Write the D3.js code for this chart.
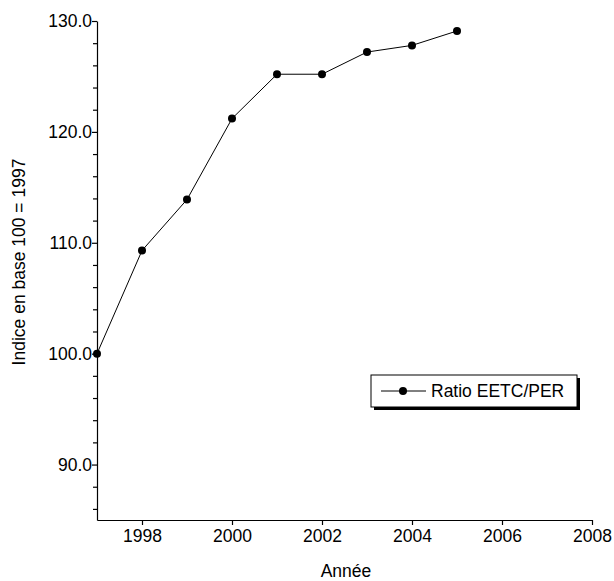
<!DOCTYPE html>
<html>
<head>
<meta charset="utf-8">
<script src="https://cdn.jsdelivr.net/npm/d3@7"></script>
<style>
  body { margin: 0; background: #fff; }
  text { font-family: "Liberation Sans", Arial, sans-serif; }
</style>
</head>
<body>
<div id="chart"></div>
<script>
const w = 614;
const h = 581;
const fs = 17.5;

const years = [1997, 1998, 1999, 2000, 2001, 2002, 2003, 2004, 2005];
const ratio = [100.0, 109.3, 113.9, 121.2, 125.2, 125.2, 127.2, 127.8, 129.1];
const xTicks = [1998, 2000, 2002, 2004, 2006, 2008];
const yMajor = [90, 100, 110, 120, 130];
const yMinor = d3.range(86, 130, 2);
const seriesName = "Ratio EETC/PER";

const padLeft = 97, padRight = 592, padTop = 21, padBottom = 520;

const xScale = d3.scaleLinear().domain([1997, 2008]).range([padLeft, padRight]);
const yScale = d3.scaleLinear().domain([85, 130]).range([padBottom, padTop]);

const svg = d3.select("#chart")
  .append("svg")
  .attr("width", w)
  .attr("height", h);

// minor y ticks
svg.append("g")
  .attr("transform", "translate(" + padLeft + ",0)")
  .call(d3.axisLeft(yScale).tickValues(yMinor.filter(v => !yMajor.includes(v))).tickSize(4).tickFormat(""))
  .call(g => g.select(".domain").remove())
  .selectAll("line").attr("stroke", "#000").attr("stroke-width", 1.2);

const yAxis = svg.append("g")
  .attr("transform", "translate(" + padLeft + ",0)")
  .call(d3.axisLeft(yScale).tickValues(yMajor).tickSize(5).tickSizeOuter(0).tickPadding(0).tickFormat(d3.format(".1f")));

const xAxis = svg.append("g")
  .attr("transform", "translate(0," + padBottom + ")")
  .call(d3.axisBottom(xScale).tickValues(xTicks).tickSize(5).tickSizeOuter(0).tickPadding(5).tickFormat(d3.format("d")));

[xAxis, yAxis].forEach(g => {
  g.attr("font-size", null).attr("font-family", null);
  g.selectAll("text").attr("font-size", fs).attr("fill", "#000");
  g.selectAll("line, path").attr("stroke", "#000").attr("stroke-width", 1.2);
});

svg.append("text")
  .attr("transform", "rotate(-90)")
  .attr("x", -262)
  .attr("y", 25)
  .attr("text-anchor", "middle")
  .attr("font-size", fs)
  .text("Indice en base 100 = 1997");

svg.append("text")
  .attr("x", 346)
  .attr("y", 577)
  .attr("text-anchor", "middle")
  .attr("font-size", fs)
  .text("Année");

const line = d3.line()
  .x((d, i) => xScale(years[i]))
  .y(d => yScale(d));

svg.append("path")
  .datum(ratio)
  .attr("fill", "none")
  .attr("stroke", "#000")
  .attr("stroke-width", 1)
  .attr("d", line);

svg.selectAll("circle.pt")
  .data(ratio)
  .enter()
  .append("circle")
  .attr("class", "pt")
  .attr("cx", (d, i) => xScale(years[i]))
  .attr("cy", d => yScale(d))
  .attr("r", 4)
  .attr("fill", "#000");

// legend
const lg = svg.append("g").attr("transform", "translate(371,375)");
lg.append("rect").attr("x", 3).attr("y", 3).attr("width", 206).attr("height", 32).attr("fill", "#000");
lg.append("rect").attr("x", 0).attr("y", 0).attr("width", 206).attr("height", 32)
  .attr("fill", "#fff").attr("stroke", "#000").attr("stroke-width", 1);
lg.append("line").attr("x1", 10).attr("x2", 55).attr("y1", 16).attr("y2", 16).attr("stroke", "#000");
lg.append("circle").attr("cx", 32).attr("cy", 16).attr("r", 4).attr("fill", "#000");
lg.append("text").attr("x", 60).attr("y", 22).attr("font-size", fs).text(seriesName);
</script>
</body>
</html>
